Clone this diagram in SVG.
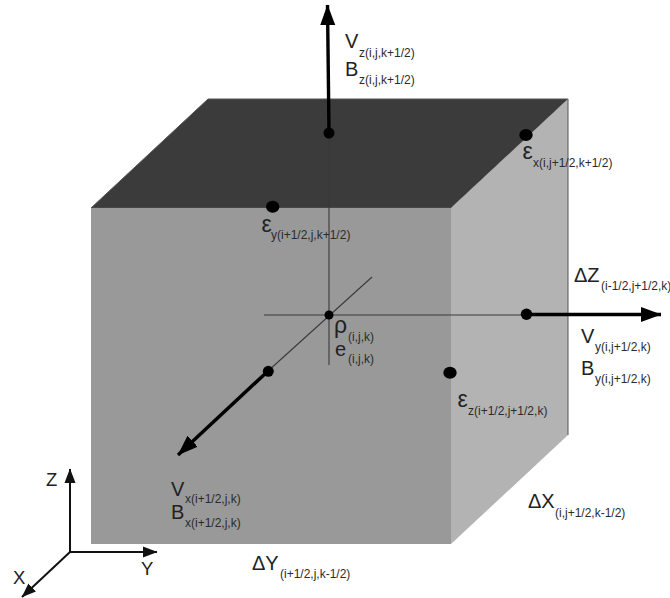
<svg xmlns="http://www.w3.org/2000/svg" width="670" height="598" viewBox="0 0 670 598">
<style>
text{font-family:"Liberation Sans",Arial,sans-serif;fill:#222}
.m{font-size:20px}
.g{font-size:23px}
.a{font-size:18.500px}
.s{font-size:12px;fill:#2b2b2b}
.thin{stroke:#3a3a3a;stroke-width:1.100;fill:none}
.thick{stroke:#000;stroke-width:3.400;fill:none}
.ax{stroke:#111;stroke-width:2;fill:none}
.dot{fill:#000}
</style>
<defs>
<marker id="big" markerUnits="userSpaceOnUse" markerWidth="22" markerHeight="18" refX="20" refY="9" orient="auto"><path d="M0 1.500L20.500 9L0 16.500Z" fill="#000"/></marker>
<marker id="small" markerUnits="userSpaceOnUse" markerWidth="16" markerHeight="14" refX="14" refY="7" orient="auto"><path d="M0 1.500L14.500 7L0 12.500Z" fill="#111"/></marker>
</defs>
<g id="cube">
<path id="top-face" d="M91 208L208 99H568L451 208Z" fill="#3b3b3b" stroke="#555" stroke-width="1"/>
<path id="front-face" d="M91 208H451V544H91Z" fill="#999"/>
<path id="right-face" d="M451 208L568 99V435L451 544Z" fill="#b3b3b3"/>
<path d="M568 99V435" stroke="#555" stroke-width="1" fill="none"/>
</g>
<g id="connectors">
<path class="thin" d="M329 133V365"/>
<path class="thin" d="M264 315H527"/>
<path class="thin" d="M372 277L268 371"/>
<path class="thick" d="M329 133L327.500 5" marker-end="url(#big)"/>
<path class="thick" d="M527 314.500H661" marker-end="url(#big)"/>
<path class="thick" d="M268 371L178 455" marker-end="url(#big)"/>
<path class="ax" d="M70 552V469" marker-end="url(#small)"/>
<path class="ax" d="M70 552H157" marker-end="url(#small)"/>
<path class="ax" d="M70 552L22 597" marker-end="url(#small)"/>
</g>
<g id="dots">
<circle class="dot" cx="329" cy="133" r="5.500"/>
<ellipse class="dot" cx="526" cy="135" rx="6.700" ry="6"/>
<ellipse class="dot" cx="272.700" cy="206.700" rx="6.700" ry="6"/>
<circle class="dot" cx="329" cy="315" r="4.500"/>
<circle class="dot" cx="526.500" cy="314.300" r="5.700"/>
<circle class="dot" cx="268.300" cy="371.300" r="5.500"/>
<ellipse class="dot" cx="450" cy="372.700" rx="6.700" ry="6"/>
</g>
<g id="labels">
<text class="m" x="345" y="48">V</text><text class="s" x="359" y="57">z(i,j,k+1/2)</text>
<text class="m" x="345" y="76">B</text><text class="s" x="359" y="84">z(i,j,k+1/2)</text>
<text class="g" x="522.500" y="159">ε</text><text class="s" x="533" y="167">x(i,j+1/2,k+1/2)</text>
<text class="g" x="261.500" y="232">ε</text><text class="s" x="271" y="239">y(i+1/2,j,k+1/2)</text>
<text class="m" x="574" y="282">ΔZ</text><text class="s" x="601" y="290">(i-1/2,j+1/2,k)</text>
<text class="m" x="581" y="343">V</text><text class="s" x="595" y="351">y(i,j+1/2,k)</text>
<text class="m" x="581" y="375">B</text><text class="s" x="595" y="383">y(i,j+1/2,k)</text>
<text class="g" x="334" y="333">ρ</text><text class="s" x="348" y="341">(i,j,k)</text>
<text class="m" x="335" y="356">e</text><text class="s" x="348" y="363">(i,j,k)</text>
<text class="g" x="457.500" y="407">ε</text><text class="s" x="468" y="415">z(i+1/2,j+1/2,k)</text>
<text class="m" x="171" y="496">V</text><text class="s" x="185" y="503">x(i+1/2,j,k)</text>
<text class="m" x="171" y="519">B</text><text class="s" x="185" y="527">x(i+1/2,j,k)</text>
<text class="m" x="252" y="570">ΔY</text><text class="s" x="280" y="578">(i+1/2,j,k-1/2)</text>
<text class="m" x="528" y="508">ΔX</text><text class="s" x="555" y="517">(i,j+1/2,k-1/2)</text>
<text class="a" x="46" y="486">Z</text>
<text class="a" x="141" y="575">Y</text>
<text class="a" x="13" y="584">X</text>
</g>
</svg>
